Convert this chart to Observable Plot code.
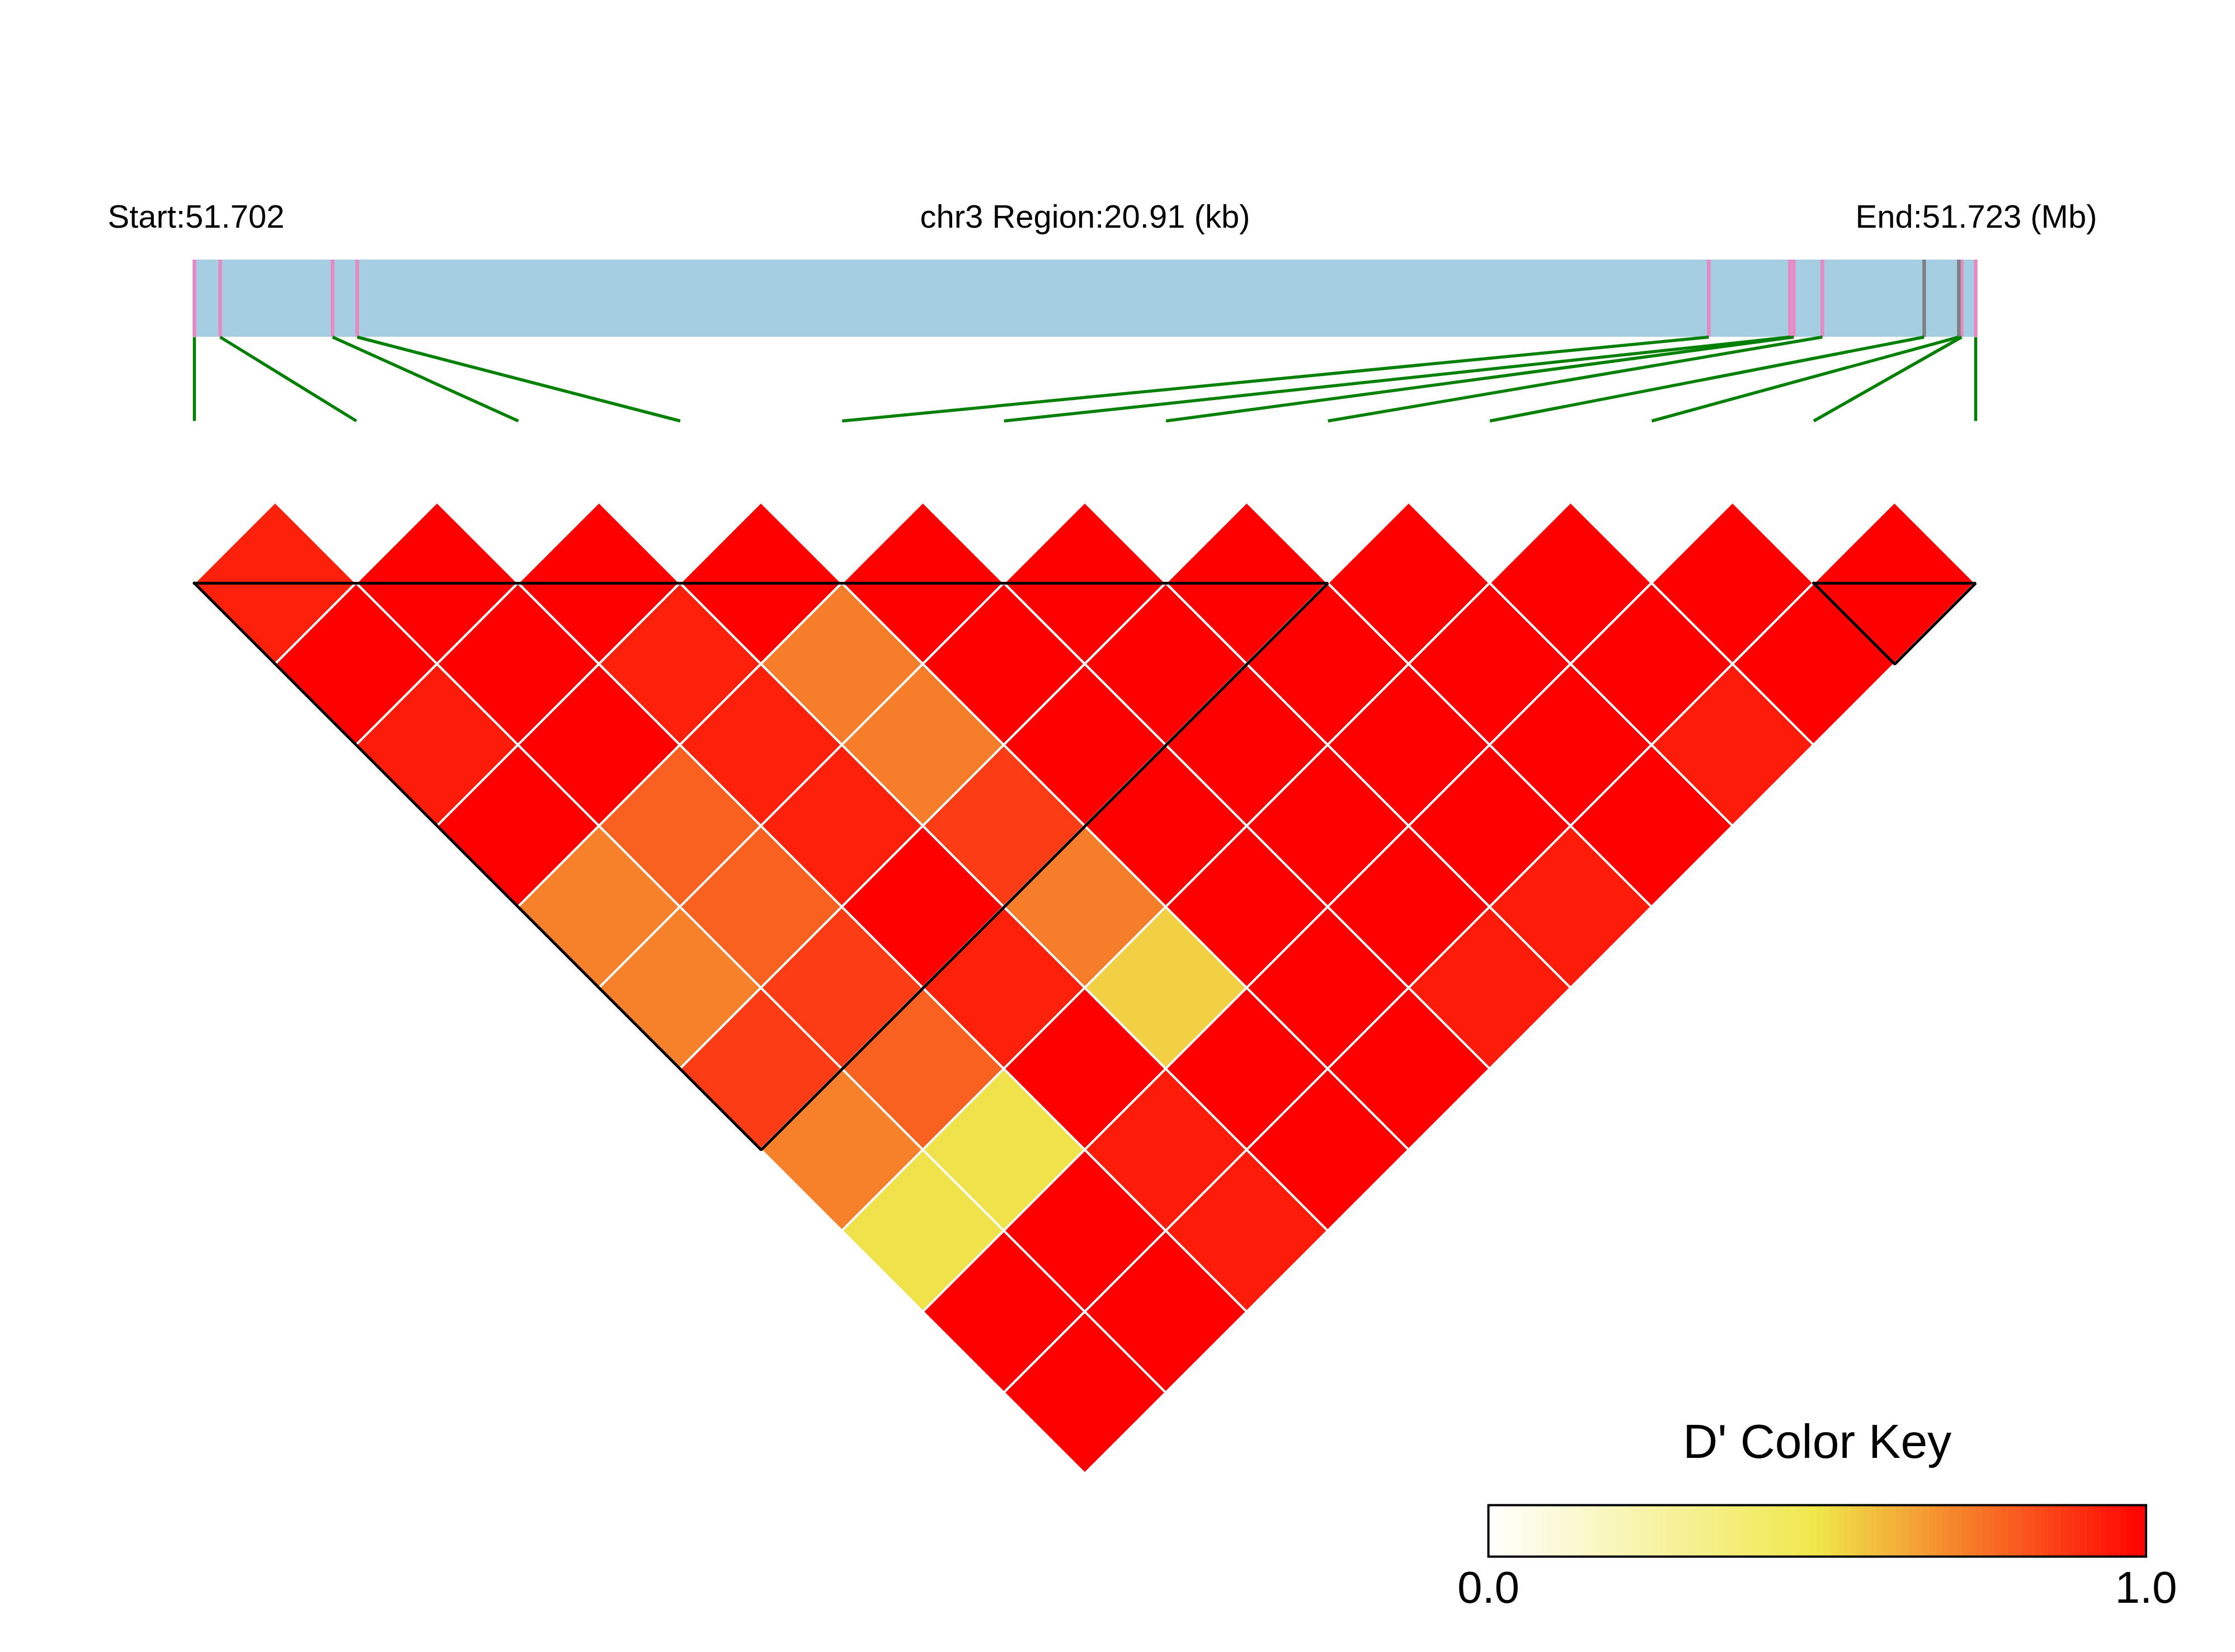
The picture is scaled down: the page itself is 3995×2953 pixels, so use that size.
<!DOCTYPE html>
<html>
<head>
<meta charset="utf-8">
<script src="https://cdn.jsdelivr.net/npm/d3@7"></script>
<script src="https://cdn.jsdelivr.net/npm/@observablehq/plot@0.6"></script>
<style>
html, body { margin: 0; padding: 0; background: #fff; overflow: hidden; }
#wrap { position: relative; width: 3995px; height: 2953px; background: #fff; }
#main { position: absolute; left: 0; top: 0; }
#key { position: absolute; left: 2560px; top: 2500px; }
</style>
</head>
<body>
<div id="wrap"><div id="main"></div><div id="key"></div></div>
<script>
// ---------------- data ----------------
const chrom = "chr3";
const regionStart = 51702150;
const regionEnd = 51723060;
const snpPos = [51702150, 51702452, 51703772, 51704061, 51719927, 51720879,
                51720925, 51721260, 51722455, 51722862, 51722895, 51723060];
const snpClass = ["pink", "pink", "pink", "pink", "pink", "pink",
                  "pink", "pink", "gray", "gray", "pink", "pink"];
// D' for pair (i, j), j > i : dprimeRows[i][j - i - 1]
const dprimeRows = [
  [0.93, 1.00, 0.94, 1.00, 0.72, 0.72, 0.87, 0.72, 0.51, 1.00, 1.00],
  [1.00, 1.00, 1.00, 0.79, 0.79, 0.87, 0.79, 0.51, 1.00, 1.00],
  [1.00, 0.93, 0.93, 0.93, 1.00, 0.93, 1.00, 0.94, 0.94],
  [1.00, 0.73, 0.73, 0.87, 0.73, 0.55, 1.00, 1.00],
  [1.00, 1.00, 1.00, 1.00, 1.00, 1.00, 1.00],
  [1.00, 1.00, 1.00, 1.00, 1.00, 0.94],
  [1.00, 1.00, 1.00, 1.00, 0.94],
  [1.00, 1.00, 1.00, 1.00],
  [1.00, 1.00, 0.94],
  [1.00, 1.00],
  [1.00]
];
const blocks = [[0, 7], [10, 11]];
const keyTicks = [0, 1];
const keyTitle = "D' Color Key";
const keyColors = ["#ffffff", "#efe74b", "#ff0000"];

// ---------------- layout ----------------
const FONT = "'Liberation Sans', Arial, Helvetica, sans-serif";
const n = snpPos.length;
const X0 = 347, X1 = 3531;
const unit = (X1 - X0) / (n - 1);
const Y0 = 1042 - unit / 2;           // pixel of y = 0 (top of first-row diamonds)
const py = px => (px - Y0) / unit;    // pixel -> layout unit (vertical)
const pxx = px => (px - X0) / unit;   // pixel -> layout unit (horizontal)
const trackTop = py(464), trackBot = py(602), linkEnd = py(752), textBase = py(406);
const g = pos => (pos - regionStart) / (regionEnd - regionStart) * (n - 1);

const ramp = d3.piecewise(d3.interpolateRgb, keyColors);

// ---------------- derived tables ----------------
const snps = snpPos.map((pos, i) => ({pos, i, cls: snpClass[i]}));
const cellPts = [];
for (let i = 0; i < n; i++) {
  for (let j = i + 1; j < n; j++) {
    const v = dprimeRows[i][j - i - 1];
    const cx = (i + j) / 2, cy = (j - i) / 2, id = i + "-" + j;
    cellPts.push({id, v, x: cx - 0.5, y1: cy, y2: cy});
    cellPts.push({id, v, x: cx, y1: cy - 0.5, y2: cy + 0.5});
    cellPts.push({id, v, x: cx + 0.5, y1: cy, y2: cy});
  }
}
const blockPts = [];
blocks.forEach(([a, b], k) => {
  const top = 0.5;
  blockPts.push({b: k, x: a, y: top});
  blockPts.push({b: k, x: b, y: top});
  blockPts.push({b: k, x: (a + b) / 2, y: top + (b - a) / 2});
  blockPts.push({b: k, x: a, y: top});
});
const startLabel = `Start:${(regionStart / 1e6).toFixed(3)}`;
const midLabel = `${chrom} Region:${((regionEnd - regionStart) / 1e3).toFixed(2)} (kb)`;
const endLabel = `End:${(regionEnd / 1e6).toFixed(3)} (Mb)`;

// ---------------- main plot ----------------
const main = Plot.plot({
  width: 3995,
  height: 2953,
  margin: 0,
  style: {fontFamily: FONT, background: "white", maxWidth: "none"},
  x: {domain: [0, n - 1], range: [X0, X1], axis: null},
  y: {domain: [0, 6], range: [Y0, Y0 + 6 * unit], axis: null},
  color: {type: "linear", domain: [0, 1], interpolate: ramp},
  marks: [
    Plot.rect([{}], {x1: () => g(regionStart), x2: () => g(regionEnd),
      y1: () => trackTop, y2: () => trackBot, fill: "#a6cee3"}),
    Plot.ruleX(snps.filter(d => d.cls === "pink"), {x: d => g(d.pos),
      y1: () => trackTop, y2: () => trackBot, stroke: "#e78ac3", strokeWidth: 6.5, strokeLinecap: "butt"}),
    Plot.ruleX(snps.filter(d => d.cls === "gray"), {x: d => g(d.pos),
      y1: () => trackTop, y2: () => trackBot, stroke: "#808080", strokeWidth: 6.5, strokeLinecap: "butt"}),
    Plot.link(snps, {x1: d => g(d.pos), y1: () => trackBot, x2: d => d.i, y2: () => linkEnd,
      stroke: "#008000", strokeWidth: 5.5}),
    Plot.text([startLabel], {x: () => pxx(192), y: () => textBase, text: d => d,
      textAnchor: "start", lineAnchor: "bottom", fontSize: 58, fill: "black"}),
    Plot.text([midLabel], {x: () => (n - 1) / 2, y: () => textBase, text: d => d,
      textAnchor: "middle", lineAnchor: "bottom", fontSize: 58, fill: "black"}),
    Plot.text([endLabel], {x: () => pxx(3748), y: () => textBase, text: d => d,
      textAnchor: "end", lineAnchor: "bottom", fontSize: 58, fill: "black"}),
    Plot.area(cellPts, {x1: "x", y1: "y1", y2: "y2", z: "id", fill: "v",
      stroke: "white", strokeWidth: 4}),
    Plot.line(blockPts, {x: "x", y: "y", z: "b", stroke: "black", strokeWidth: 5,
      strokeLinejoin: "miter", strokeLinecap: "square"})
  ]
});
document.getElementById("main").appendChild(main);

// ---------------- colour key ----------------
const bins = d3.range(100).map(k => ({x1: k / 100, x2: (k + 1) / 100, v: (k + 0.5) / 100}));
const key = Plot.plot({
  width: 1400,
  height: 400,
  marginLeft: 100,
  marginRight: 124.5,
  marginTop: 190,
  marginBottom: 118,
  style: {fontFamily: FONT, background: "transparent", maxWidth: "none", overflow: "visible"},
  x: {domain: [0, 1], axis: null},
  color: {type: "linear", domain: [0, 1], interpolate: ramp},
  marks: [
    Plot.rect(bins, {x1: "x1", x2: "x2", fill: "v", stroke: "v", strokeWidth: 0.5}),
    Plot.frame({stroke: "black", strokeWidth: 4}),
    Plot.axisX(keyTicks, {tickSize: 0, tickPadding: 26, tickFormat: d3.format(".1f"),
      fontSize: 80, fill: "black", label: null}),
    Plot.text([keyTitle], {frameAnchor: "top", dy: -85, lineAnchor: "bottom",
      text: d => d, fontSize: 86, fill: "black"})
  ]
});
document.getElementById("key").appendChild(key);
</script>
</body>
</html>
